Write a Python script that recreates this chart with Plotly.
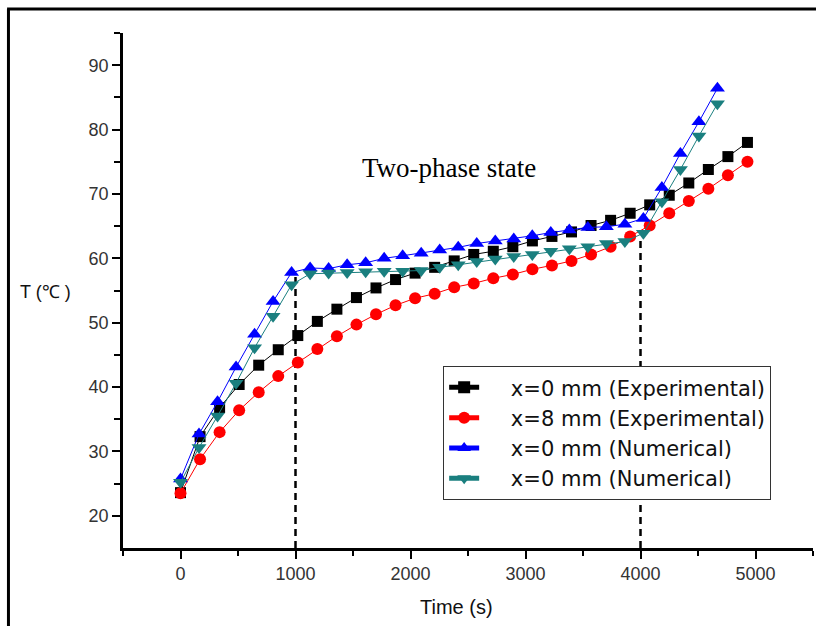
import plotly.graph_objects as go

# ---------------- data ----------------
t_exp = [170 * i for i in range(30)]
T_exp_x0 = [23.6, 32.3, 36.8, 40.4, 43.4, 45.8, 48.0, 50.2, 52.1, 53.9,
            55.4, 56.7, 57.7, 58.6, 59.6, 60.6, 61.1, 61.8, 62.7, 63.4,
            64.1, 65.1, 65.9, 67.0, 68.3, 69.8, 71.7, 73.8, 75.8, 78.0]
T_exp_x8 = [23.5, 28.8, 33.0, 36.4, 39.2, 41.7, 43.8, 45.9, 47.9, 49.7,
            51.3, 52.7, 53.8, 54.5, 55.5, 56.1, 56.9, 57.5, 58.3, 58.9,
            59.6, 60.6, 61.8, 63.4, 65.1, 67.0, 68.9, 70.8, 72.9, 75.0]
t_num = [161 * i for i in range(30)]
T_num_a = [25.7, 32.7, 37.7, 43.1, 48.2, 53.3, 57.8, 58.5, 58.4, 59.0,
           59.3, 60.0, 60.4, 60.8, 61.3, 61.7, 62.3, 62.7, 63.0, 63.5,
           64.0, 64.4, 64.8, 64.9, 65.3, 66.2, 71.0, 76.3, 81.2, 86.4]
T_num_b = [25.2, 30.6, 35.5, 40.6, 46.1, 51.0, 55.9, 57.6, 57.7, 57.8,
           57.9, 58.0, 58.0, 58.1, 58.6, 59.0, 59.5, 59.9, 60.3, 60.6,
           61.1, 61.5, 61.8, 62.3, 62.6, 63.9, 68.8, 73.8, 79.0, 84.0]

boundary_t = [1000, 4000]
boundary_top = [58.0, 63.0]
y_floor = 15

names = ["x=0 mm (Experimental)", "x=8 mm (Experimental)",
         "x=0 mm (Numerical)", "x=0 mm (Numerical)"]
colors = ["#000000", "#ff0000", "#0000ff", "#1a7f7f"]
symbols = ["square", "circle", "triangle-up", "triangle-down"]
sizes = [11, 12, 13, 13]

fig = go.Figure()

# dashed phase boundaries
for bt, top in zip(boundary_t, boundary_top):
    fig.add_trace(go.Scatter(x=[bt, bt], y=[y_floor, top], mode="lines",
                             line=dict(color="black", width=2.5, dash="7px,5px"),
                             showlegend=False, hoverinfo="skip"))

pad = "\u00a0" * 4
series = [(t_exp, T_exp_x0), (t_exp, T_exp_x8), (t_num, T_num_a), (t_num, T_num_b)]
for (xs, ys), nm, c, s, sz in zip(series, names, colors, symbols, sizes):
    fig.add_trace(go.Scatter(x=xs, y=ys, mode="lines+markers", name=pad + nm,
                             line=dict(color=c, width=1),
                             marker=dict(symbol=s, size=sz, color=c,
                                         line=dict(width=0))))

tick_font = dict(family="Liberation Sans, Arial", size=18, color="#333333")

fig.update_layout(
    width=816, height=626,
    margin=dict(l=123, r=3, t=33, b=78),
    paper_bgcolor="white", plot_bgcolor="white",
    showlegend=True,
    legend=dict(x=0.464, y=0.353, xanchor="left", yanchor="top",
                bgcolor="white", bordercolor="#333333", borderwidth=1,
                font=dict(family="DejaVu Sans", size=21, color="#111111"),
                tracegroupgap=0, itemsizing="constant"),
    xaxis=dict(range=[-500, 5500], tickvals=[0, 1000, 2000, 3000, 4000, 5000],
               showgrid=False, zeroline=False, showline=True,
               linecolor="black", linewidth=2.5,
               ticks="outside", ticklen=8, tickwidth=2, tickcolor="black",
               tickfont=tick_font,
               minor=dict(tickvals=[-500, 500, 1500, 2500, 3500, 4500, 5500],
                          ticks="outside", ticklen=5, tickwidth=2,
                          tickcolor="black", showgrid=False)),
    yaxis=dict(range=[15, 95], tickvals=[20, 30, 40, 50, 60, 70, 80, 90],
               showgrid=False, zeroline=False, showline=True,
               linecolor="black", linewidth=2.5,
               ticks="outside", ticklen=8, tickwidth=2, tickcolor="black",
               tickfont=tick_font,
               minor=dict(tickvals=[25, 35, 45, 55, 65, 75, 85, 95],
                          ticks="outside", ticklen=6, tickwidth=2,
                          tickcolor="black", showgrid=False)),
)

# titles and text
fig.add_annotation(text="Time (s)", xref="paper", yref="paper",
                   x=0.484, y=-0.1146, xanchor="center", yanchor="middle",
                   showarrow=False,
                   font=dict(family="Liberation Sans, Arial", size=20, color="#111111"))
fig.add_annotation(text="T (\u2103 )", xref="paper", yref="paper",
                   x=-0.152, y=0.497, xanchor="left", yanchor="middle",
                   showarrow=False,
                   font=dict(family="Liberation Sans, Arial", size=18, color="#111111"))
fig.add_annotation(text="Two-phase state", xref="paper", yref="paper",
                   x=0.344, y=0.738, xanchor="left", yanchor="middle",
                   showarrow=False,
                   font=dict(family="Liberation Serif, Times New Roman", size=27,
                             color="black"))

# outer frame (left and top edges visible)
fig.add_shape(type="line", xref="paper", yref="paper",
              x0=-0.166, x1=-0.166, y0=1.0466, y1=-0.2,
              line=dict(color="black", width=3))
fig.add_shape(type="line", xref="paper", yref="paper",
              x0=-0.168, x1=1.01, y0=1.0466, y1=1.0466,
              line=dict(color="black", width=3))

fig.write_html("out.html", config={"displayModeBar": False})
